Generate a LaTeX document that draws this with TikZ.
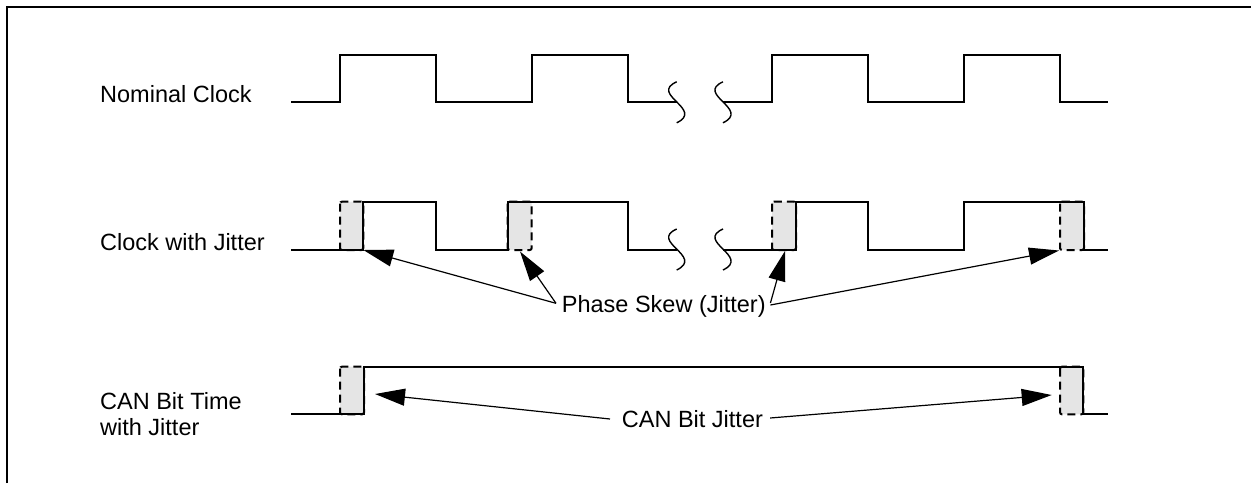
\documentclass[tikz,border=0pt]{standalone}
\usepackage{fontspec}
\setmainfont{Liberation Sans}
\usetikzlibrary{arrows.meta}
\tikzset{
  wave/.style={line width=2.2pt, line join=miter},
  brk/.style={line width=1.4pt},
  jbox/.style={fill=gray!20, draw=black, line width=2pt, dash pattern=on 8pt off 5pt, rounded corners=2pt},
  arr/.style={line width=1.2pt, -{Triangle[length=30pt,width=17pt]}},
  lbl/.style={inner sep=0pt, anchor=base west, font=\fontsize{23.5}{26}\selectfont},
  frame/.style={line width=2pt}
}
\newcommand{\squig}[2]{\draw[brk] (#1,#2-20.5) .. controls (#1-28,#2-8) and (#1+28,#2+7) .. (#1,#2+20.5);}
\begin{document}
\begin{tikzpicture}[x=1pt,y=-1pt]
\useasboundingbox (0,0) rectangle (1251,483);
% frame
\draw[frame] (7,483) -- (7,7) -- (1251,7);

% labels
\node[lbl] (nom) at (100,102.7) {Nominal Clock};
\node[lbl] (cwj) at (100,250) {Clock with Jitter};
\node[lbl] (can1) at (100,409.3) {CAN Bit Time};
\node[lbl] (can2) at (100,435) {with Jitter};
\node[lbl] (ps) at (561.7,312) {Phase Skew (Jitter)};
\node[lbl] (cbj) at (621.7,427.7) {CAN Bit Jitter};

% jitter boxes row 2
\draw[jbox] (340,201.7) rectangle (363.3,250);
\draw[jbox] (507.7,201.7) rectangle (531.7,250);
\draw[jbox] (772,201.7) rectangle (796,250);
\draw[jbox] (1060,201.7) rectangle (1084,250);
% jitter boxes row 3
\draw[jbox] (340,366.7) rectangle (364,414.3);
\draw[jbox] (1060,366.7) rectangle (1083.3,414.3);

% row 1: nominal clock
\draw[wave] (291,102.3) -- (340,102.3) -- (340,54.7) -- (435.7,54.7) -- (435.7,102.3) -- (531.7,102.3) -- (531.7,54.7) -- (628.3,54.7) -- (628.3,102.3) -- (676.7,102.3);
\draw[wave] (723,102.3) -- (772.3,102.3) -- (772.3,54.7) -- (868.3,54.7) -- (868.3,102.3) -- (964,102.3) -- (964,54.7) -- (1060,54.7) -- (1060,102.3) -- (1108.3,102.3);
\squig{676.7}{102.3}
\squig{723}{102.3}

% row 2: clock with jitter
\draw[wave] (291,250) -- (363.3,250) -- (363.3,201.7) -- (436,201.7) -- (436,250) -- (507.7,250) -- (507.7,201.7) -- (628.3,201.7) -- (628.3,250) -- (676.7,250);
\draw[wave] (723,250) -- (796,250) -- (796,201.7) -- (868.3,201.7) -- (868.3,250) -- (964,250) -- (964,201.7) -- (1084,201.7) -- (1084,250) -- (1108.3,250);
\squig{676.7}{249.5}
\squig{723}{249.5}

% row 3: CAN bit time
\draw[wave] (291,414.3) -- (364,414.3) -- (364,366.7) -- (1083.3,366.7) -- (1083.3,414.3) -- (1108.3,414.3);

% arrow targets
\coordinate (t1) at (363.3,250);
\coordinate (t2) at (520,251.5);
\coordinate (t3) at (785,251);
\coordinate (t4) at (1059,250.5);
\coordinate (t5) at (375,394);
\coordinate (t6) at (1051.7,395);

% arrows
\draw[arr] ([shift={(-5.7,-8.7)}]ps.base west) -- (t1);
\draw[arr] ([shift={(-5.7,-8.7)}]ps.base west) -- (t2);
\draw[arr] ([shift={(4.6,-9)}]ps.base east) -- (t3);
\draw[arr] ([shift={(4.6,-7)}]ps.base east) -- (t4);
\draw[arr] ([shift={(-11.7,-8.7)}]cbj.base west) -- (t5);
\draw[arr] ([shift={(7,-9.7)}]cbj.base east) -- (t6);
\end{tikzpicture}
\end{document}
